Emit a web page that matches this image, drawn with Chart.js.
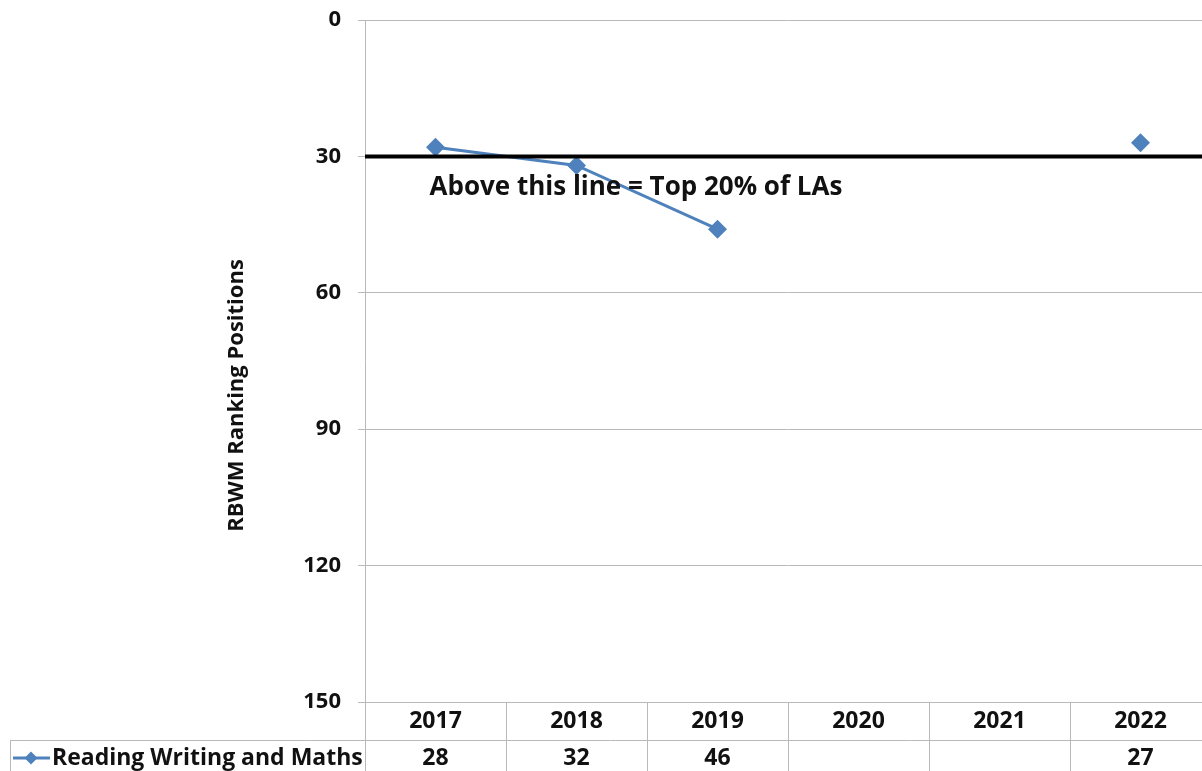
<!DOCTYPE html>
<html>
<head>
<meta charset="utf-8">
<script src="https://cdn.jsdelivr.net/npm/chart.js@4/dist/chart.umd.min.js"></script>
<style>
  html, body { margin: 0; padding: 0; overflow: hidden; background: #ffffff; }
  canvas { display: block; }
</style>
</head>
<body>
<canvas id="chart" width="1212" height="771"></canvas>
<script>
// Ranking positions for RBWM (lower number = better rank)
const years = ['2017', '2018', '2019', '2020', '2021', '2022'];
const rankings = [28, 32, 46, null, null, 27];
const yTickValues = [0, 30, 60, 90, 120, 150];
const thresholdRank = 30;
const seriesName = 'Reading Writing and Maths';
const thresholdNote = 'Above this line = Top 20% of LAs';
const axisTitle = 'RBWM Ranking Positions';

const FONT = '"Open Sans", Lato, sans-serif';
const BLUE = '#4F81BD';
const GRID = '#b9b9b9';
const TEXT = '#111111';

// Threshold line, note, axis title and the data table beneath the plot
const extrasPlugin = {
  id: 'extras',
  afterDatasetsDraw(chart) {
    const { ctx, chartArea: a, scales: { x, y } } = chart;
    ctx.save();
    const ty = y.getPixelForValue(thresholdRank);
    ctx.strokeStyle = '#000000';
    ctx.lineWidth = 4;
    ctx.beginPath();
    ctx.moveTo(a.left, ty);
    ctx.lineTo(a.right, ty);
    ctx.stroke();
    ctx.fillStyle = TEXT;
    ctx.font = `bold 26px ${FONT}`;
    ctx.textAlign = 'left';
    ctx.textBaseline = 'middle';
    ctx.fillText(thresholdNote, x.getPixelForValue(0) - 6, y.getPixelForValue(36.9));
    ctx.restore();
  },
  afterDraw(chart) {
    const { ctx, chartArea: a, scales: { x } } = chart;
    const top = a.bottom;
    const rowH = 38;
    const mid = top + rowH;
    const bottom = chart.height + 10;
    const colW = (a.right - a.left) / years.length;
    const legendLeft = 10;

    ctx.save();
    ctx.fillStyle = TEXT;
    ctx.font = `bold 22px ${FONT}`;
    ctx.textAlign = 'center';
    ctx.textBaseline = 'middle';
    ctx.translate(a.left - 128, (a.top + chart.height) / 2);
    ctx.rotate(-Math.PI / 2);
    ctx.fillText(axisTitle, 0, 0);
    ctx.restore();

    ctx.save();
    ctx.strokeStyle = GRID;
    ctx.lineWidth = 1;
    ctx.beginPath();
    ctx.moveTo(legendLeft, mid + 0.5);
    ctx.lineTo(a.right, mid + 0.5);
    for (let i = 0; i <= years.length; i++) {
      const cx = Math.round(a.left + i * colW) + 0.5;
      ctx.moveTo(cx, top);
      ctx.lineTo(cx, bottom);
    }
    ctx.moveTo(legendLeft + 0.5, mid);
    ctx.lineTo(legendLeft + 0.5, bottom);
    ctx.stroke();

    ctx.fillStyle = TEXT;
    ctx.font = `bold 23px ${FONT}`;
    ctx.textAlign = 'center';
    ctx.textBaseline = 'middle';
    years.forEach((yr, i) => {
      const cx = x.getPixelForValue(i);
      ctx.fillText(yr, cx, top + rowH / 2);
      if (rankings[i] !== null) ctx.fillText(String(rankings[i]), cx, mid + 18);
    });

    // legend key in the row header
    const ly = mid + 18;
    ctx.strokeStyle = BLUE;
    ctx.lineWidth = 3;
    ctx.beginPath();
    ctx.moveTo(legendLeft + 3, ly);
    ctx.lineTo(legendLeft + 40, ly);
    ctx.stroke();
    ctx.fillStyle = BLUE;
    ctx.beginPath();
    const kx = legendLeft + 21, r = 6.5;
    ctx.moveTo(kx, ly - r);
    ctx.lineTo(kx + r, ly);
    ctx.lineTo(kx, ly + r);
    ctx.lineTo(kx - r, ly);
    ctx.closePath();
    ctx.fill();
    ctx.fillStyle = TEXT;
    ctx.textAlign = 'left';
    ctx.fillText(seriesName, legendLeft + 42, ly);
    ctx.restore();
  }
};

new Chart(document.getElementById('chart'), {
  type: 'line',
  data: {
    labels: years,
    datasets: [{
      label: seriesName,
      data: rankings,
      borderColor: BLUE,
      backgroundColor: BLUE,
      borderWidth: 3,
      pointStyle: 'rectRot',
      pointRadius: 9.5,
      pointBorderWidth: 0,
      spanGaps: false,
      tension: 0
    }]
  },
  options: {
    responsive: false,
    animation: false,
    events: [],
    layout: { autoPadding: false, padding: { top: 20, right: 1, left: 0, bottom: 0 } },
    plugins: { legend: { display: false }, tooltip: { enabled: false } },
    scales: {
      x: {
        type: 'category',
        offset: true,
        grid: { display: false, drawTicks: false },
        border: { display: false },
        ticks: { display: false },
        afterFit(axis) { axis.height = 69; }
      },
      y: {
        reverse: true,
        min: 0,
        max: 150,
        afterBuildTicks(axis) { axis.ticks = yTickValues.map(v => ({ value: v })); },
        grid: { color: GRID, lineWidth: 1, tickLength: 7, drawTicks: true },
        border: { color: GRID, width: 1 },
        ticks: {
          color: TEXT,
          padding: 17,
          font: { family: FONT, size: 22, weight: 'bold' }
        },
        afterFit(axis) {
          axis.width = 365;
          axis.paddingTop = 0;
          axis.paddingBottom = 0;
        }
      }
    }
  },
  plugins: [extrasPlugin]
});
</script>
</body>
</html>
